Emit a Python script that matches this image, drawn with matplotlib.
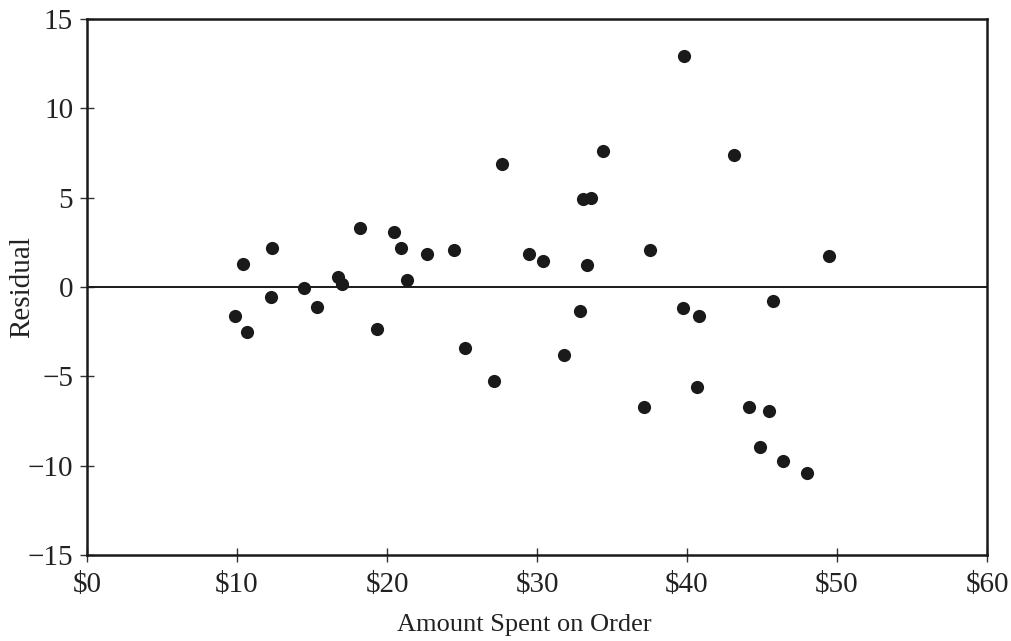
import matplotlib
matplotlib.use("Agg")
import matplotlib.pyplot as plt
from matplotlib.ticker import FuncFormatter

amount = [9.87, 10.4, 10.67, 12.33, 12.27, 14.47, 15.33, 16.73, 17.0, 18.2,
          19.33, 20.47, 20.93, 21.33, 22.67, 24.47, 25.2, 27.13, 27.67, 29.47,
          30.4, 31.8, 32.87, 33.07, 33.6, 33.33, 34.4, 37.13, 37.53, 39.8,
          39.73, 40.8, 40.67, 43.13, 44.13, 44.87, 45.47, 45.73, 46.4, 48.0,
          49.47]
residual = [-1.62, 1.29, -2.52, 2.18, -0.56, -0.06, -1.12, 0.56, 0.17, 3.3,
            -2.35, 3.08, 2.18, 0.39, 1.85, 2.07, -3.41, -5.26, 6.88, 1.85,
            1.45, -3.8, -1.34, 4.92, 4.98, 1.23, 7.61, -6.72, 2.07, 12.93,
            -1.18, -1.62, -5.6, 7.39, -6.72, -8.95, -6.94, -0.78, -9.74, -10.41,
            1.73]
x_ticks = [0, 10, 20, 30, 40, 50, 60]
y_ticks = [-15, -10, -5, 0, 5, 10, 15]

plt.rcParams['font.family'] = ['Liberation Serif', 'DejaVu Serif']
plt.rcParams['mathtext.default'] = 'regular'

fig = plt.figure(figsize=(10.12, 6.41), dpi=100)
ax = fig.add_axes([0.086, 0.1342, 0.8893, 0.8362])
ax.scatter(amount, residual, s=90, color='#1a1a1a', zorder=3, linewidths=0)
ax.axhline(0, color='#1a1a1a', lw=1.4, zorder=2)
ax.set_xlim(0, 60)
ax.set_ylim(-15, 15)
ax.set_xticks(x_ticks)
ax.set_yticks(y_ticks)
ax.xaxis.set_major_formatter(FuncFormatter(lambda v, p: f"\\${v:.0f}"))
ax.yaxis.set_major_formatter(FuncFormatter(lambda v, p: f"{v:.0f}".replace('-', '\u2212')))
for s in ax.spines.values():
    s.set_linewidth(1.8)
    s.set_color('#1a1a1a')
ax.tick_params(direction='inout', length=10, width=1, color='#333333',
               labelsize=21, labelcolor='#222222')
ax.tick_params(axis='x', pad=7)
ax.tick_params(axis='y', pad=5)
ax.set_xlabel('Amount Spent on Order', fontsize=19, color='#222222')
ax.xaxis.set_label_coords(0.4856, -0.1105)
ax.set_ylabel('Residual', fontsize=21, color='#222222')
ax.yaxis.set_label_coords(-0.058, 0.5)

fig.savefig('out.png', dpi=100)
